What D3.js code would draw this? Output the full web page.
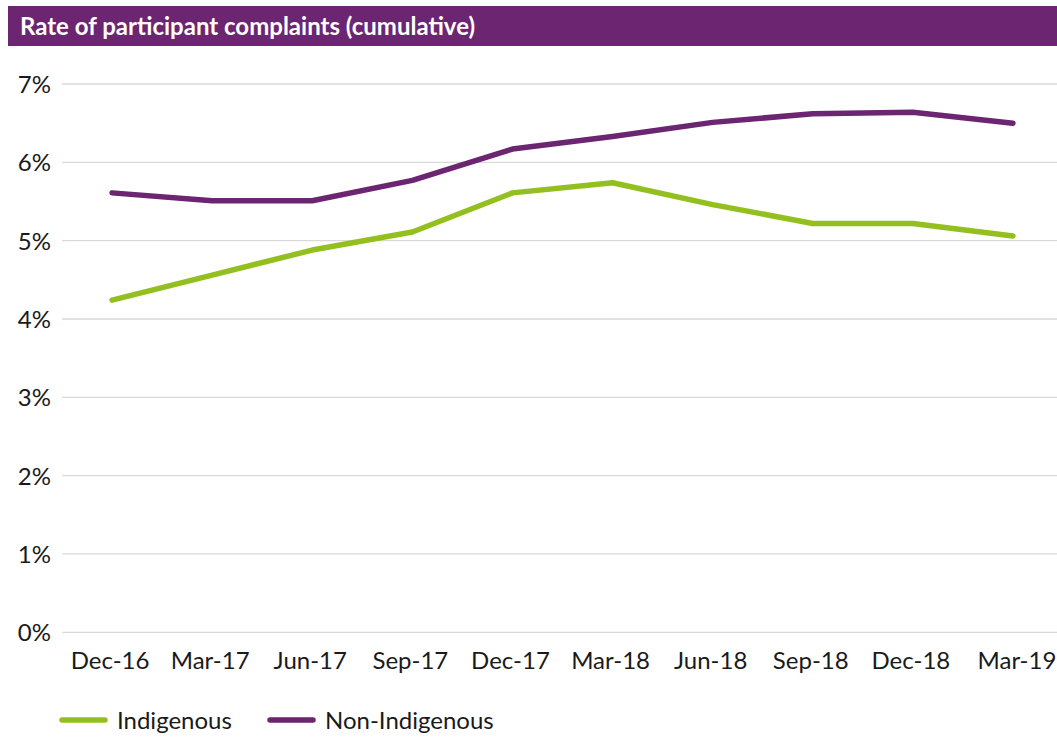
<!DOCTYPE html>
<html>
<head>
<meta charset="utf-8">
<script src="https://cdn.jsdelivr.net/npm/d3@7"></script>
<style>
html,body{margin:0;padding:0;background:#fff;}
svg{display:block;}
</style>
</head>
<body>
<svg id="chart" width="1057" height="737"></svg>
<script>
const categories = ["Dec-16","Mar-17","Jun-17","Sep-17","Dec-17","Mar-18","Jun-18","Sep-18","Dec-18","Mar-19"];
const indigenous = [4.24,4.56,4.88,5.11,5.61,5.74,5.46,5.22,5.22,5.06];
const nonIndigenous = [5.61,5.51,5.51,5.77,6.17,6.33,6.51,6.62,6.64,6.50];
const yTicks = [0,1,2,3,4,5,6,7];
const seriesNames = ["Indigenous","Non-Indigenous"];
const colors = ["#93c01f","#6b2571"];
const title = "Rate of participant complaints (cumulative)";

const font = "Lato, 'Liberation Sans', Arial, sans-serif";
const svg = d3.select("#chart");
const W = 1057;

// Title bar
svg.append("rect").attr("x",8).attr("y",6).attr("width",W-8).attr("height",40).attr("fill","#6b2571");
svg.append("text").attr("x",20).attr("y",35).attr("fill","#fff")
  .attr("font-family",font).attr("font-weight","bold").attr("font-size",24).text(title);

const x = d3.scaleBand().domain(categories).range([62,1063]);
const y = d3.scaleLinear().domain([0,7]).range([632.3,84]);

// gridlines
svg.append("g").selectAll("line").data(yTicks).join("line")
  .attr("x1",62).attr("x2",1063)
  .attr("y1",d=>y(d)).attr("y2",d=>y(d))
  .attr("stroke","#d9d9d9").attr("stroke-width",1.3);

// y axis labels
const yAxis = d3.axisLeft(y).tickValues(yTicks).tickFormat(d=>d+"%").tickSize(0).tickPadding(0);
const gy = svg.append("g").attr("transform","translate(51,0)").call(yAxis);
gy.select(".domain").remove();
gy.selectAll("text").attr("font-family",font).attr("font-size",24).attr("fill","#1a1a1a").attr("dy","0.35em");

// x axis labels
const xAxis = d3.axisBottom(x).tickSize(0).tickPadding(0);
const gx = svg.append("g").attr("transform","translate(-2,651)").call(xAxis);
gx.select(".domain").remove();
gx.selectAll("text").attr("font-family",font).attr("font-size",24).attr("fill","#1a1a1a").attr("dy","0.75em");
gx.selectAll(".tick").filter(d=>d===categories[categories.length-1]).select("text").attr("dx",6);

// lines
const line = d3.line().x((d,i)=>x(categories[i])+x.bandwidth()/2).y(d=>y(d));
[indigenous, nonIndigenous].forEach((s,k)=>{
  svg.append("path").datum(s).attr("d",line).attr("fill","none")
    .attr("stroke",colors[k]).attr("stroke-width",5.5)
    .attr("stroke-linecap","round").attr("stroke-linejoin","round");
});

// legend
const legendX = [60, 268];
seriesNames.forEach((n,k)=>{
  svg.append("line").attr("x1",legendX[k]+2).attr("x2",legendX[k]+45).attr("y1",720).attr("y2",720)
    .attr("stroke",colors[k]).attr("stroke-width",5.5).attr("stroke-linecap","round");
  svg.append("text").attr("x",legendX[k]+57).attr("y",729).attr("font-family",font)
    .attr("font-size",24).attr("fill","#1a1a1a").text(n);
});
</script>
</body>
</html>
